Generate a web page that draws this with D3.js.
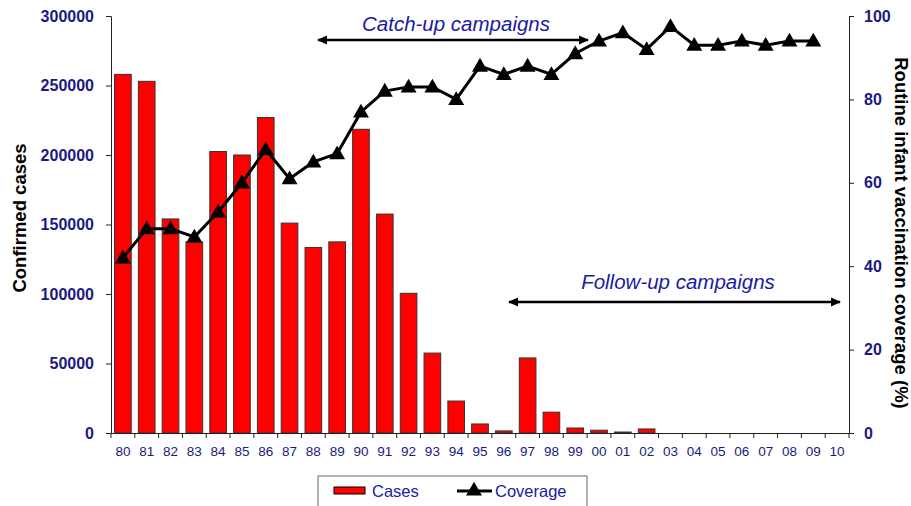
<!DOCTYPE html>
<html><head><meta charset="utf-8">
<script src="https://cdn.jsdelivr.net/npm/d3@7"></script>
<style>body{margin:0;background:#fff}svg{display:block;font-family:"Liberation Sans",Arial,sans-serif}</style>
</head><body><svg id="c" width="911" height="506"></svg>
<script>
const years = ["80","81","82","83","84","85","86","87","88","89","90","91","92","93","94","95","96","97","98","99","00","01","02","03","04","05","06","07","08","09","10"];
const cases = [258000,253000,154000,137500,202500,200000,227000,151000,133500,137500,218500,157500,100500,57500,23000,6500,1500,54000,15000,3600,2000,700,2900,null,null,null,null,null,null,null,null];
const coverage = [42,49,49,47,53,60,68,61,65,67,77,82,83,83,80,88,86,88,86,91,94,96,92,97.5,93,93,94,93,94,94,null];
const leftTicks = [0,50000,100000,150000,200000,250000,300000];
const rightTicks = [0,20,40,60,80,100];

const svg = d3.select("#c");
const L=111, R=849, T=16, B=433;
const navy="#1a1a80";
const blue="#1a1aa6";
const x = d3.scaleBand().domain(years).range([L,R]).paddingInner(0.3).paddingOuter(0.15);
const xb = d3.scaleBand().domain(years).range([L,R]);
const yL = d3.scaleLinear().domain([0,300000]).range([B,T]);
const yR = d3.scaleLinear().domain([0,100]).range([B,T]);

// bars
svg.append("g").selectAll("rect").data(years.map((y,i)=>({y,v:cases[i]})).filter(d=>d.v!=null))
 .join("rect").attr("x",d=>x(d.y)).attr("width",x.bandwidth())
 .attr("y",d=>yL(d.v)).attr("height",d=>B-yL(d.v))
 .attr("fill","#ff0000").attr("stroke","#333").attr("stroke-width",1);

// axes
const gl = svg.append("g").attr("transform",`translate(${L},0)`).call(d3.axisLeft(yL).tickValues(leftTicks).tickFormat(d3.format("d")).tickSize(5).tickPadding(12));
const gr = svg.append("g").attr("transform",`translate(${R},0)`).call(d3.axisRight(yR).tickValues(rightTicks).tickSize(5).tickPadding(10));
const gb = svg.append("g").attr("transform",`translate(0,${B})`).call(d3.axisBottom(xb).tickSize(0).tickPadding(13));
[gl,gr].forEach(g=>{g.selectAll("path,line").attr("stroke","#222");
 g.selectAll("text").attr("fill",navy).attr("font-size",16).attr("font-weight","bold");});
gb.select("path").attr("stroke","#222");
gb.selectAll("text").attr("fill",navy).attr("font-size",13.5);
// bottom tick marks at band boundaries
svg.append("g").selectAll("line").data(years.concat(["end"])).join("line")
 .attr("x1",(d,i)=>L+i*xb.step()).attr("x2",(d,i)=>L+i*xb.step())
 .attr("y1",B).attr("y2",B+5).attr("stroke","#222");

// coverage line
const pts = years.map((y,i)=>({y,v:coverage[i]})).filter(d=>d.v!=null);
svg.append("path").datum(pts).attr("fill","none").attr("stroke","#000").attr("stroke-width",3)
 .attr("d",d3.line().x(d=>xb(d.y)+xb.bandwidth()/2).y(d=>yR(d.v)));
const tri = d3.symbol().type(d3.symbolTriangle).size(110);
svg.append("g").selectAll("path").data(pts).join("path")
 .attr("d",tri).attr("fill","#000")
 .attr("transform",d=>`translate(${xb(d.y)+xb.bandwidth()/2},${yR(d.v)+1})`);

// axis titles
svg.append("text").attr("transform","translate(26,218) rotate(-90)").attr("text-anchor","middle")
 .attr("font-size",18.5).attr("font-weight","bold").attr("fill","#000").text("Confirmed cases");
svg.append("text").attr("transform","translate(895,233) rotate(90)").attr("text-anchor","middle")
 .attr("font-size",18.5).attr("font-weight","bold").attr("fill","#000").text("Routine infant vaccination coverage (%)");

// annotations
svg.append("defs").html(`<marker id="ah" viewBox="0 0 10 10" refX="9" refY="5" markerWidth="4.2" markerHeight="4.2" orient="auto-start-reverse"><path d="M0,0.5 L10,5 L0,9.5 z" fill="#000"/></marker>`);
function arrow(x1,x2,y){svg.append("line").attr("x1",x1).attr("x2",x2).attr("y1",y).attr("y2",y)
 .attr("stroke","#000").attr("stroke-width",2.5).attr("marker-start","url(#ah)").attr("marker-end","url(#ah)");}
arrow(318,588,40); arrow(509,840,302);
svg.append("text").attr("x",456).attr("y",31).attr("text-anchor","middle").attr("font-style","italic")
 .attr("font-size",20.5).attr("fill",blue).text("Catch-up campaigns");
svg.append("text").attr("x",678).attr("y",289).attr("text-anchor","middle").attr("font-style","italic")
 .attr("font-size",20.5).attr("fill",blue).text("Follow-up campaigns");

// legend
const lg = svg.append("g");
lg.append("rect").attr("x",318).attr("y",476).attr("width",269).attr("height",40).attr("fill","#fff").attr("stroke","#666");
lg.append("rect").attr("x",334).attr("y",487).attr("width",31).attr("height",7).attr("fill","#ff0000").attr("stroke","#000");
lg.append("text").attr("x",372).attr("y",497).attr("font-size",16.5).attr("fill",blue).text("Cases");
lg.append("line").attr("x1",457).attr("x2",492).attr("y1",491).attr("y2",491).attr("stroke","#000").attr("stroke-width",3);
lg.append("path").attr("d",tri).attr("fill","#000").attr("transform","translate(474,491)");
lg.append("text").attr("x",495).attr("y",497).attr("font-size",16.5).attr("fill",blue).text("Coverage");
</script></body></html>
